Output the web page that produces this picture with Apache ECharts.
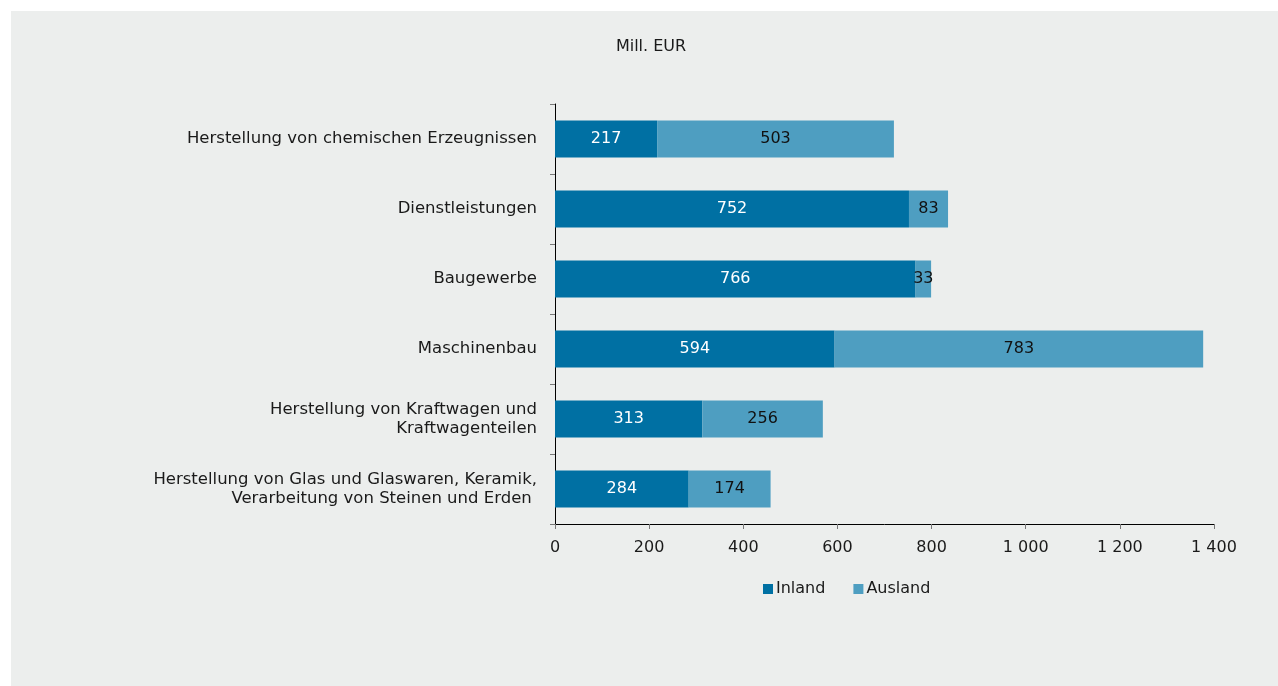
<!DOCTYPE html>
<html>
<head>
<meta charset="utf-8">
<script src="https://cdn.jsdelivr.net/npm/echarts@6/dist/echarts.min.js"></script>
<style>
html,body{margin:0;padding:0;background:#ffffff;width:1278px;height:686px;overflow:hidden;}
#chart{position:absolute;left:11px;top:11px;width:1267px;height:675px;background:#eceeed;}
</style>
</head>
<body>
<div id="chart"></div>
<script>
const categories = [
  'Herstellung von chemischen Erzeugnissen',
  'Dienstleistungen',
  'Baugewerbe',
  'Maschinenbau',
  'Herstellung von Kraftwagen und\nKraftwagenteilen',
  'Herstellung von Glas und Glaswaren, Keramik,\nVerarbeitung von Steinen und Erden '
];
const inland = [217, 752, 766, 594, 313, 284];
const ausland = [503, 83, 33, 783, 256, 174];
const seriesNames = ['Inland', 'Ausland'];
const unitLabel = 'Mill. EUR';
const xMin = 0, xMax = 1400, xStep = 200;

const FONT = 'DejaVu Sans';
const FS = 16.5;
function fmt(v) {
  if (v >= 1000) return Math.floor(v / 1000) + ' ' + String(v % 1000).padStart(3, '0');
  return String(v);
}

const chart = echarts.init(document.getElementById('chart'), null, {renderer: 'canvas'});
chart.setOption({
  animation: false,
  backgroundColor: '#eceeed',
  textStyle: {fontFamily: FONT, fontSize: 16, color: '#1a1a1a'},
  graphic: [{
    type: 'text', x: 640, y: 36,
    style: {text: unitLabel, font: '16px "' + FONT + '"', fill: '#1a1a1a', align: 'center', verticalAlign: 'middle'}
  }],
  legend: {
    data: seriesNames,
    left: 747, top: 565,
    icon: 'rect', itemWidth: 10, itemHeight: 10, itemGap: 28,
    textStyle: {fontFamily: FONT, fontSize: 16, color: '#1a1a1a', padding: [0, 0, 0, -2]}
  },
  grid: {left: 544, right: 64, top: 93, bottom: 162, containLabel: false},
  xAxis: {
    type: 'value', min: xMin, max: xMax, interval: xStep,
    axisLine: {show: true, lineStyle: {color: '#000', width: 1}},
    axisTick: {show: true, length: 5, lineStyle: {color: '#777'}},
    splitLine: {show: false},
    axisLabel: {fontFamily: FONT, fontSize: 16, color: '#1a1a1a', margin: 16, formatter: fmt}
  },
  yAxis: {
    type: 'category', data: categories, inverse: true,
    axisLine: {show: true, lineStyle: {color: '#000', width: 1}},
    axisTick: {show: true, length: 5, lineStyle: {color: '#777'}},
    axisLabel: {fontFamily: FONT, fontSize: FS, color: '#1a1a1a', margin: 18, align: 'right', lineHeight: 19}
  },
  series: [
    {
      name: seriesNames[0], type: 'bar', stack: 'total', data: inland, barWidth: 37,
      itemStyle: {color: '#0070a3'},
      label: {show: true, position: 'inside', color: '#ffffff', fontFamily: FONT, fontSize: 16}
    },
    {
      name: seriesNames[1], type: 'bar', stack: 'total', data: ausland, barWidth: 37,
      itemStyle: {color: '#4e9ec1'},
      label: {show: true, position: 'inside', color: '#111111', fontFamily: FONT, fontSize: 16}
    }
  ]
});
</script>
</body>
</html>
